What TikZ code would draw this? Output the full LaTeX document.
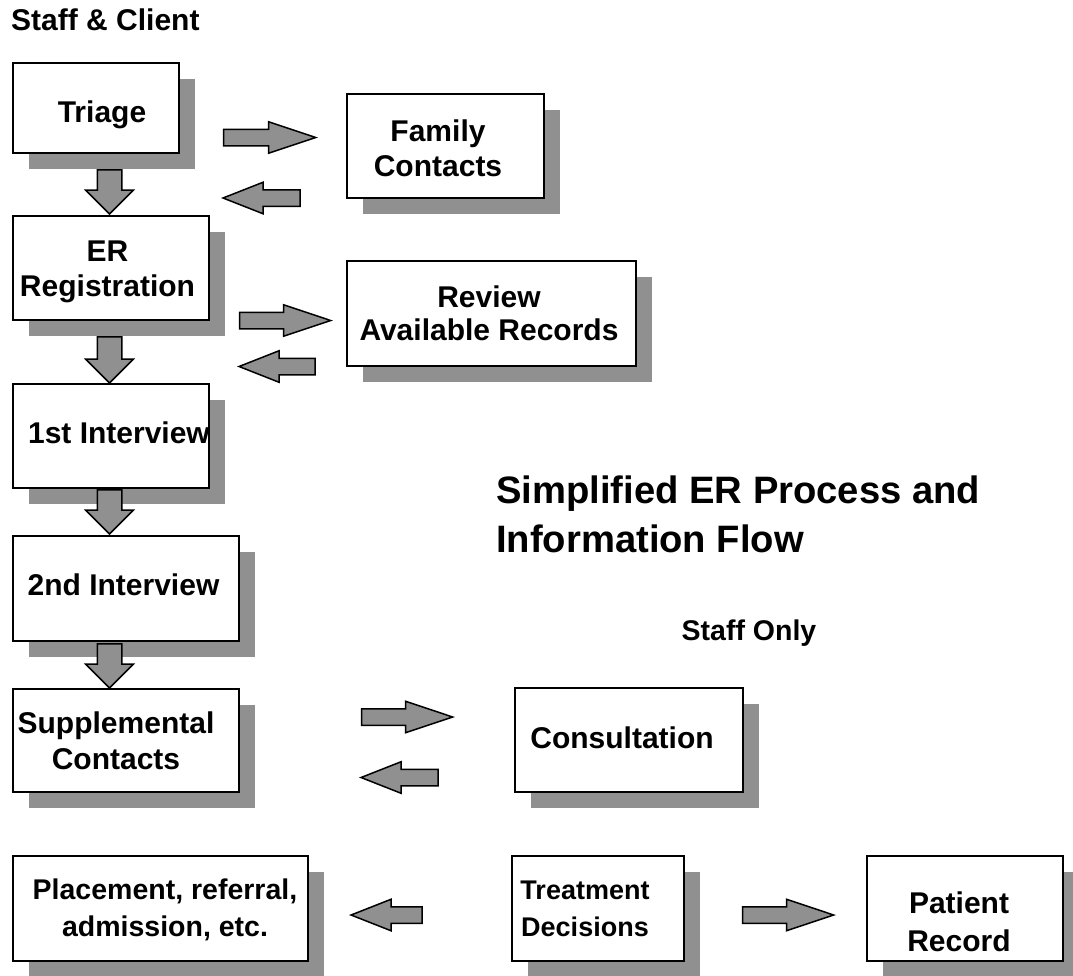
\documentclass[tikz,border=0pt]{standalone}
\usepackage{fontspec}
\setmainfont{Liberation Sans}
\usetikzlibrary{shapes.arrows,shadows}
\definecolor{shgray}{RGB}{144,144,144}
\tikzset{
  box/.style={draw=black, line width=2pt, fill=white, rectangle, inner sep=0pt,
    drop shadow={shadow xshift=15.5pt, shadow yshift=-15.5pt, fill=shgray, opacity=1}},
  lbl/.style={inner sep=0pt, font=\bfseries\fontsize{30}{36}\selectfont, align=center},
  blk/.style={single arrow, draw=black, line width=1.5pt, fill=shgray, anchor=tip,
    inner xsep=0pt, inner ysep=7.5pt, minimum width=0pt, single arrow head extend=7.5pt},
  rarr/.style={blk, single arrow tip angle=37},
  larr/.style={blk, single arrow tip angle=43, rotate=180},
  darr/.style={blk, inner ysep=11.5pt, single arrow head extend=11.5pt,
    single arrow tip angle=90, rotate=-90},
}
\begin{document}
\begin{tikzpicture}[x=1pt, y=-1pt]
\useasboundingbox (0,0) rectangle (1073,975);
% boxes
\node[box, minimum width=166pt, minimum height=90pt]  (triage)  at (96,108) {};
\node[box, minimum width=197pt, minimum height=104pt] (family)  at (445.5,146) {};
\node[box, minimum width=196pt, minimum height=104pt] (er)      at (111,268) {};
\node[box, minimum width=289pt, minimum height=105pt] (review)  at (491.5,313.5) {};
\node[box, minimum width=196pt, minimum height=104pt] (first)   at (111,436) {};
\node[box, minimum width=226pt, minimum height=105pt] (second)  at (126,588.5) {};
\node[box, minimum width=226pt, minimum height=103pt] (supp)    at (126,740.5) {};
\node[box, minimum width=228pt, minimum height=104pt] (consult) at (629,740) {};
\node[box, minimum width=295pt, minimum height=105pt] (place)   at (160.5,908.5) {};
\node[box, minimum width=172pt, minimum height=105pt] (treat)   at (598,908.5) {};
\node[box, minimum width=196pt, minimum height=105pt] (patient) at (965,908.5) {};
% box texts
\node[lbl] (triaget) at (102,115) {Triage};
\node[lbl, font=\bfseries\fontsize{30}{35}\selectfont] (familyt) at (438,148) {Family\\Contacts};
\node[lbl, font=\bfseries\fontsize{30}{35}\selectfont] (ert) at (107.5,272) {ER\\Registration};
\node[lbl, font=\bfseries\fontsize{30}{33}\selectfont] (reviewt) at (489,313.5) {Review\\Available Records};
\node[lbl] (firstt) at (119,432.5) {1st Interview};
\node[lbl] (secondt) at (123.5,584.5) {2nd Interview};
\node[lbl] (suppt) at (116,740.5) {Supplemental\\Contacts};
\node[lbl] (consultt) at (622,738) {Consultation};
\node[lbl, font=\bfseries\fontsize{28.5}{37}\selectfont] (placet) at (165,910) {Placement, referral,\\admission, etc.};
\node[lbl, font=\bfseries\fontsize{27}{37}\selectfont] (treatt) at (585,908.5) {Treatment\\Decisions};
\node[lbl, font=\bfseries\fontsize{30}{38}\selectfont] (patientt) at (959,922) {Patient\\Record};
% headings
\node[inner sep=0pt, anchor=base west, font=\bfseries\fontsize{30}{36}\selectfont] (hclient) at (11,30) {Staff \& Client};
\node[inner sep=0pt, anchor=west, align=left, font=\bfseries\fontsize{38.2}{49}\selectfont] (title) at (496,514) {Simplified ER Process and\\Information Flow};
\node[inner sep=0pt, anchor=base west, font=\bfseries\fontsize{28.5}{34}\selectfont] (hstaff) at (681.5,640) {Staff Only};
% block arrows (placed by their tips)
\node[rarr, minimum height=92pt] (ra1) at (318,137.5) {};
\node[rarr, minimum height=91pt] (ra2) at (333,320.5) {};
\node[rarr, minimum height=91pt] (ra3) at (455,717) {};
\node[rarr, minimum height=91pt] (ra4) at (836,915) {};
\node[larr, minimum height=77pt] (la1) at (221,198) {};
\node[larr, minimum height=76pt] (la2) at (237,366.5) {};
\node[larr, minimum height=77pt] (la3) at (359,777.5) {};
\node[larr, minimum height=71pt] (la4) at (349,915) {};
\node[darr, minimum height=44pt] (da1) at (109.5,215) {};
\node[darr, minimum height=46pt] (da2) at (109.5,384) {};
\node[darr, minimum height=44pt] (da3) at (109.5,535) {};
\node[darr, minimum height=44pt] (da4) at (109.5,689) {};
\end{tikzpicture}
\end{document}
